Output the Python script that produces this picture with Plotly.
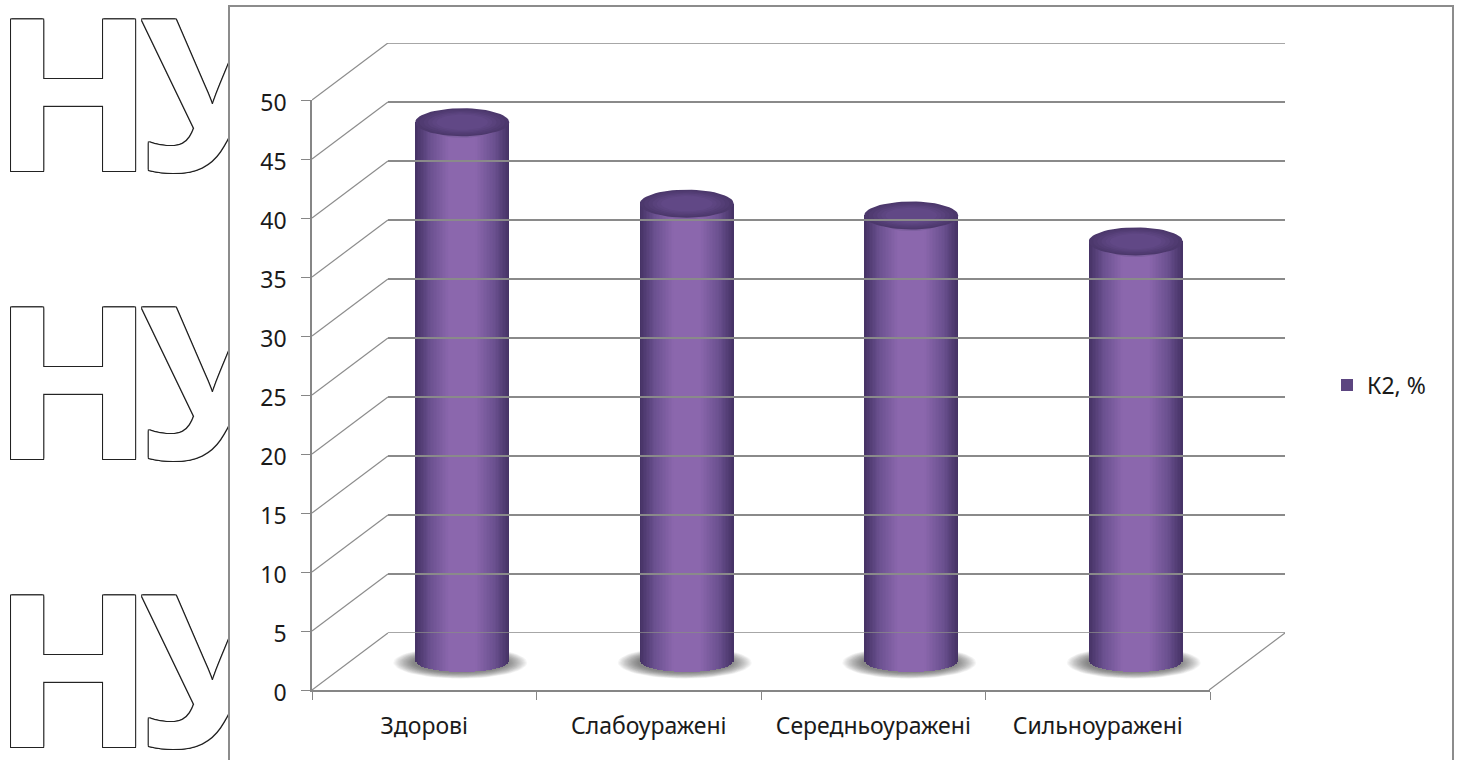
import numpy as np
import plotly.graph_objects as go

# Chart data
categories = ["Здорові", "Слабоуражені", "Середньоуражені", "Сильноуражені"]
k2_values = [45.7, 38.8, 37.8, 35.6]
value_ticks = [0, 5, 10, 15, 20, 25, 30, 35, 40, 45, 50]
series_name = "К2, %"
watermark_letters = ["Н", "У"]

W, H = 1462, 760
FRONT_X = (312, 1210)
FRONT_Y = (100, 690)
BACK_X = (388, 1285)
BACK_Y = (43, 633)
PX_PER_CAT = (FRONT_X[1] - FRONT_X[0]) / 4
PX_PER_UNIT = (FRONT_Y[1] - FRONT_Y[0]) / 50
DEPTH_X = (BACK_X[0] - FRONT_X[0]) / PX_PER_CAT
DEPTH_Y = (FRONT_Y[0] - BACK_Y[0]) / PX_PER_UNIT

cat_pos = np.arange(len(categories), dtype=float)
cyl_x = cat_pos + DEPTH_X / 2          # cylinders stand mid-way through the depth
cyl_floor = DEPTH_Y / 2
HALF_W = 47 / PX_PER_CAT
BOTTOM_B = 10.5 / PX_PER_UNIT
TOP_B = 14 / PX_PER_UNIT


def dom_x(a, b):
    return [a / W, b / W]


def dom_y(top, bottom):
    return [1 - bottom / H, 1 - top / H]


def ellipses(centres_x, centres_y, a, b):
    """One filled path holding an ellipse per centre."""
    t = np.linspace(0, 2 * np.pi, 61)
    xs, ys = [], []
    for cx, cy in zip(centres_x, centres_y):
        xs += list(cx + a * np.cos(t)) + [None]
        ys += list(cy + b * np.sin(t)) + [None]
    return xs, ys


def mix(c1, c2, f):
    return "#%02x%02x%02x" % tuple(round(p + (q - p) * f) for p, q in zip(c1, c2))


EDGE = (0x46, 0x33, 0x66)
MID = (0x6a, 0x50, 0x8f)
CENTRE = (0x8b, 0x67, 0xad)

fig = go.Figure()

# Soft floor shadow under each cylinder
STEPS = 18
for i in range(STEPS):
    f = i / (STEPS - 1)
    sx, sy = ellipses(cyl_x - 2 / PX_PER_CAT, [cyl_floor - 0.1] * 4,
                      (67 - 20 * f) / PX_PER_CAT, (16 - 6 * f) / PX_PER_UNIT)
    fig.add_trace(go.Scatter(x=sx, y=sy, mode="lines", fill="toself",
                             fillcolor="rgba(40,40,40,0.045)", line=dict(width=0),
                             hoverinfo="skip", showlegend=False))

# Oblique lines joining the front axes to the back wall, plus the right floor edge.
# They live on a hidden axis pair spanning both the front axes and the back wall.
dx, dy = [], []
for v in value_ticks:
    dx += [-0.5, -0.5 + DEPTH_X, None]
    dy += [v, v + DEPTH_Y, None]
dx += [3.5, 3.5 + DEPTH_X]
dy += [0, DEPTH_Y]
fig.add_trace(go.Scatter(x=dx, y=dy, mode="lines",
                         line=dict(color="#8c8c8c", width=1.2),
                         xaxis="x5", yaxis="y5", hoverinfo="skip", showlegend=False))

# Floor edge and top edge of the back wall
fig.add_trace(go.Scatter(x=[-0.5, 3.5, None, -0.5, 3.5], y=[0, 0, None, 50, 50], mode="lines",
                         cliponaxis=False, line=dict(color="#8a8a8a", width=1.5),
                         xaxis="x2", yaxis="y2", hoverinfo="skip", showlegend=False))

# Cylinder bodies: nested bars, each narrower and lighter, with a curved lower end
N = 32
for i in range(N):
    u = 1 - i / N
    f = 1 - u
    color = mix(EDGE, MID, f / 0.3) if f < 0.3 else mix(MID, CENTRE, min((f - 0.3) / 0.4, 1))
    drop = BOTTOM_B * np.sqrt(max(1 - u ** 2, 0))
    base = [cyl_floor - drop] * len(k2_values)
    fig.add_trace(go.Bar(x=cyl_x, y=[v + cyl_floor - b for v, b in zip(k2_values, base)],
                         base=base, width=2 * HALF_W * u,
                         marker=dict(color=color, line=dict(width=0)),
                         name=series_name, showlegend=(i == 6),
                         xaxis="x3", yaxis="y3", hoverinfo="skip"))

# Cylinder caps: a lighter rim and a dark top face
tops = [v + cyl_floor for v in k2_values]
rx, ry = ellipses(cyl_x, [t - 3 / PX_PER_UNIT for t in tops], HALF_W * 0.8, TOP_B * 0.9)
fig.add_trace(go.Scatter(x=rx, y=ry, mode="lines", fill="toself", fillcolor="#7d5f9f",
                         line=dict(width=0), xaxis="x3", yaxis="y3",
                         hoverinfo="skip", showlegend=False))
for i in range(6):
    f = i / 5
    cx, cy = ellipses(cyl_x, tops, HALF_W * (1 - 0.45 * f), TOP_B * (1 - 0.45 * f))
    fig.add_trace(go.Scatter(x=cx, y=cy, mode="lines", fill="toself",
                             fillcolor=mix((0x4c, 0x38, 0x6c), (0x61, 0x48, 0x86), f),
                             line=dict(width=0), xaxis="x3", yaxis="y3",
                             hoverinfo="skip", showlegend=False))

# Outlined lettering left of the chart frame, cut off by the frame edge
outline = ",".join(f"{a}px {b}px 0 #222" for a, b in
                   [(1, 0), (-1, 0), (0, 1), (0, -1), (1, 1), (-1, 1), (1, -1), (-1, -1)])
rows = [118, 406, 694]
fig.add_trace(go.Scatter(x=[73, 210] * 3, y=[r for r in rows for _ in watermark_letters],
                         text=watermark_letters * 3,
                         mode="text", textposition="middle center",
                         textfont=dict(family="Open Sans", size=212, weight="bold",
                                       color="white", shadow=outline),
                         xaxis="x4", yaxis="y4", hoverinfo="skip", showlegend=False))

AXIS_GRAY = "#868686"
tick_font = dict(family="Noto Sans", size=23, color="#1a1a1a")
fig.update_layout(
    template="none",
    width=W, height=H, margin=dict(l=0, r=0, t=0, b=0),
    paper_bgcolor="white", plot_bgcolor="rgba(0,0,0,0)",
    barmode="overlay", bargap=0,
    xaxis=dict(domain=dom_x(*FRONT_X), range=[-0.5, 3.5], tickvals=cat_pos, ticktext=categories,
               ticks="", showgrid=False, zeroline=False, showline=True, linecolor=AXIS_GRAY,
               linewidth=1.5, tickfont=tick_font, ticklabelstandoff=15, anchor="y",
               automargin=False,
               minor=dict(tickvals=[-0.5, 0.5, 1.5, 2.5, 3.5], ticks="outside", ticklen=8,
                          tickcolor=AXIS_GRAY, showgrid=False)),
    yaxis=dict(domain=dom_y(*FRONT_Y), range=[0, 50], tickvals=value_ticks, ticks="outside",
               ticklen=9, tickcolor=AXIS_GRAY, showgrid=False, zeroline=False, showline=True,
               linecolor=AXIS_GRAY, linewidth=1.5, tickfont=tick_font,
               ticklabelstandoff=10, ticklabelshift=3, anchor="x", automargin=False),
    # Back wall: its gridlines are the horizontal rules behind the cylinders
    xaxis2=dict(domain=dom_x(*BACK_X), range=[-0.5, 3.5], visible=False, anchor="y2"),
    yaxis2=dict(domain=dom_y(*BACK_Y), range=[0, 50], tickvals=value_ticks, showgrid=True,
                gridcolor="#8a8a8a", gridwidth=1.5, zeroline=False, showticklabels=False,
                ticks="", showline=False, anchor="x2"),
    xaxis3=dict(overlaying="x", range=[-0.5, 3.5], visible=False, anchor="y3"),
    yaxis3=dict(overlaying="y", range=[0, 50], visible=False, anchor="x3"),
    xaxis4=dict(domain=dom_x(0, 228), range=[0, 228], visible=False, anchor="y4"),
    yaxis4=dict(domain=[0, 1], range=[H, 0], visible=False, anchor="x4"),
    xaxis5=dict(domain=dom_x(FRONT_X[0], BACK_X[1]), range=[-0.5, 3.5 + DEPTH_X],
                visible=False, anchor="y5"),
    yaxis5=dict(domain=dom_y(BACK_Y[0], FRONT_Y[1]), range=[0, 50 + DEPTH_Y],
                visible=False, anchor="x5"),
    legend=dict(x=1327 / W, y=1 - 385 / H, xanchor="left", yanchor="middle",
                font=tick_font, bgcolor="rgba(0,0,0,0)", itemwidth=30),
    # Chart frame, open at the bottom edge of the page
    shapes=[dict(type="path", xref="paper", yref="paper", layer="below",
                 path=f"M {229 / W} 0 L {229 / W} {1 - 6 / H} L {1453 / W} {1 - 6 / H} L {1453 / W} 0",
                 line=dict(color="#8c8c8c", width=2))],
)

fig.write_html("out.html")
